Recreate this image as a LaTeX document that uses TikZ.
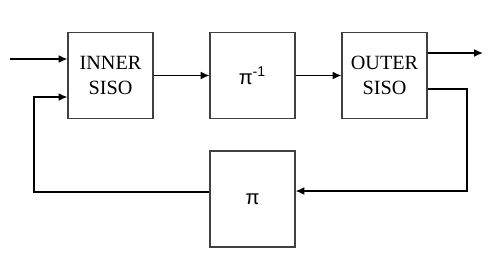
\documentclass[tikz,border=0pt]{standalone}
\usepackage{fontspec}
\setmainfont{Liberation Serif}
\newfontfamily\pisans{Liberation Sans}
\usetikzlibrary{arrows.meta,calc}

\begin{document}
\begin{tikzpicture}[x=0.02cm, y=-0.02cm, % 1 unité = 1 pixel de l'image (500 x 272)
  bloc/.style={draw=black!75, line width=0.6pt, minimum width=1.7cm, minimum height=1.72cm,
    align=center, font=\fontsize{11.5}{14}\selectfont},
  fleche/.style={-{Latex[length=5pt,width=4.5pt]}, line width=0.9pt},
  ligne/.style={line width=0.9pt}]
  \useasboundingbox (0,0) rectangle (500,272);

  % Blocs
  \node[bloc] (inner) at (110.5,75.5) {INNER\\SISO};
  \node[bloc] (invpi) at (252.5,75.5) {\pisans π\textsuperscript{-1}};
  \node[bloc] (outer) at (384.5,75.5) {OUTER\\SISO};
  \node[bloc, minimum height=1.92cm] (perm) at (252.5,199) {\pisans π};

  % Entrée et sortie
  \coordinate (entree) at (10,59);
  \coordinate (sortie) at (483,53);
  \draw[fleche] (entree) -- (entree -| inner.west);
  \draw[fleche] (outer.east |- sortie) -- (sortie);

  % Chaîne directe
  \draw[fleche] (inner) -- (invpi);
  \draw[fleche] (invpi) -- (outer);

  % Boucle de retour
  \coordinate (coindroit) at (467,191);
  \coordinate (coingauche) at (34,97);
  \draw[fleche] ($(outer.east)+(0,13.5)$) -| (coindroit) -- (coindroit -| perm.east);
  \draw[fleche] ($(perm.west)+(0,-7)$) -| (coingauche) -- (coingauche -| inner.west);
\end{tikzpicture}
\end{document}
